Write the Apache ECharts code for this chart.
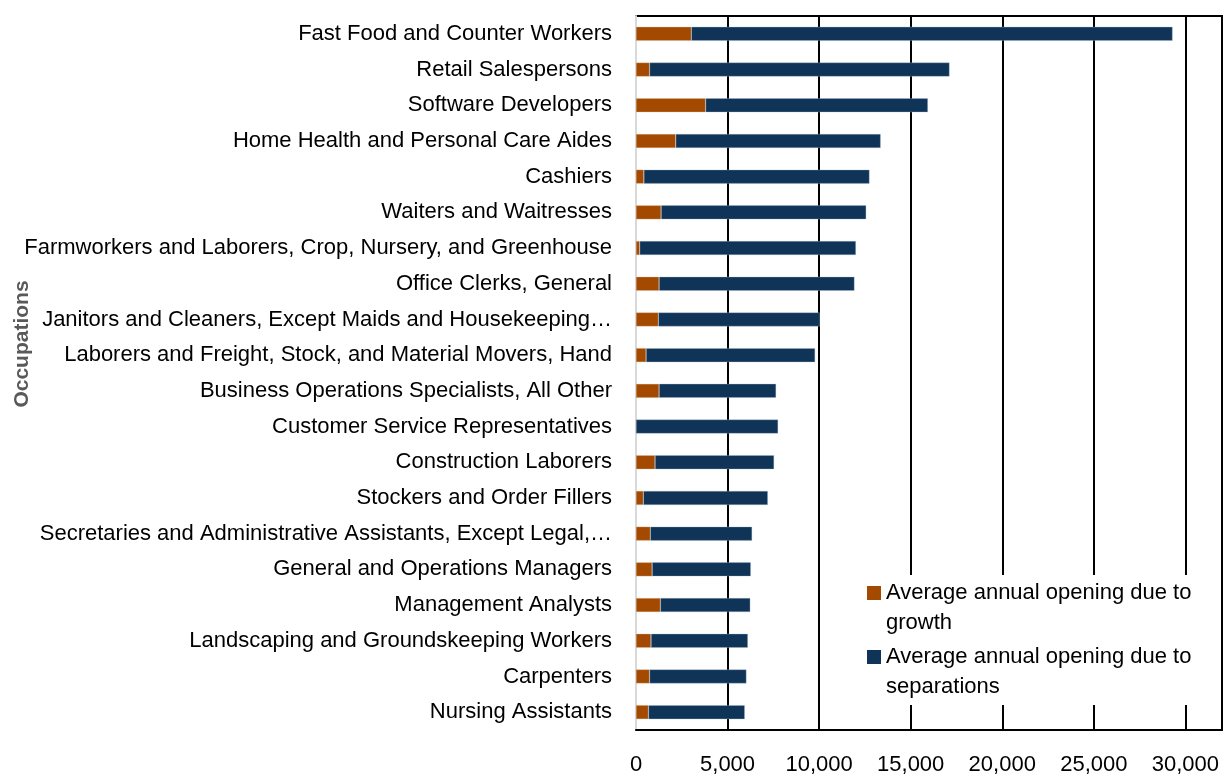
<!DOCTYPE html>
<html>
<head>
<meta charset="utf-8">
<script src="https://cdn.jsdelivr.net/npm/echarts@6/dist/echarts.min.js"></script>
<style>
  html, body { margin: 0; padding: 0; background: #fff; }
  #chart { width: 1225px; height: 776px; }
</style>
</head>
<body>
<div id="chart"></div>
<script>
// occupations, top to bottom as shown
const occupations = [
  'Fast Food and Counter Workers',
  'Retail Salespersons',
  'Software Developers',
  'Home Health and Personal Care Aides',
  'Cashiers',
  'Waiters and Waitresses',
  'Farmworkers and Laborers, Crop, Nursery, and Greenhouse',
  'Office Clerks, General',
  'Janitors and Cleaners, Except Maids and Housekeeping…',
  'Laborers and Freight, Stock, and Material Movers, Hand',
  'Business Operations Specialists, All Other',
  'Customer Service Representatives',
  'Construction Laborers',
  'Stockers and Order Fillers',
  'Secretaries and Administrative Assistants, Except Legal,…',
  'General and Operations Managers',
  'Management Analysts',
  'Landscaping and Groundskeeping Workers',
  'Carpenters',
  'Nursing Assistants'
]

const growthOpenings = [
  3020, 740, 3800, 2170, 430, 1370, 200, 1260, 1220, 550,
  1260, 0, 1040, 400, 780, 880, 1330, 820, 740, 680
]

const separationOpenings = [
  26280, 16380, 12140, 11190, 12320, 11200, 11810, 10670, 8810, 9230,
  6390, 7760, 6500, 6800, 5560, 5390, 4910, 5290, 5290, 5260
]

const seriesNames = [
  'Average annual opening due to growth',
  'Average annual opening due to separations'
]
const legendText = {
  'Average annual opening due to growth': 'Average annual opening due to\ngrowth',
  'Average annual opening due to separations': 'Average annual opening due to\nseparations'
}

const xMax = 32000
const xStep = 5000

const font = '"Liberation Sans", Arial, sans-serif'
// square sitting on the first text line of a two-line legend entry
const legendIcon = 'path://M0 0h0.02v0.02h-0.02z M0 8h14v14h-14z M13.98 59.98h0.02v0.02h-0.02z'

const chart = echarts.init(document.getElementById('chart'), null, { renderer: 'canvas' })

const option = {
  animation: false,
  textStyle: { fontFamily: font },
  grid: {
    left: 636,
    right: 3,
    top: 16,
    bottom: 45,
    show: true,
    borderColor: '#000',
    borderWidth: 2,
    backgroundColor: 'transparent'
  },
  legend: {
    data: seriesNames,
    orient: 'vertical',
    left: 858,
    top: 575,
    padding: [3, 10, 3, 9],
    itemGap: 4,
    itemWidth: 14,
    itemHeight: 60,
    icon: legendIcon,
    itemStyle: { borderWidth: 0 },
    backgroundColor: '#fff',
    formatter: name => legendText[name],
    textStyle: {
      fontFamily: font,
      fontSize: 22,
      lineHeight: 30,
      color: '#000'
    }
  },
  xAxis: {
    type: 'value',
    min: 0,
    max: xMax,
    interval: xStep,
    axisLine: { show: true, lineStyle: { color: '#000', width: 2 } },
    axisTick: { show: false },
    axisLabel: {
      showMaxLabel: false,
      margin: 24,
      fontFamily: font,
      fontSize: 22,
      color: '#000',
      formatter: v => v.toLocaleString('en-US')
    },
    splitLine: { show: true, lineStyle: { color: '#000', width: 2 } }
  },
  yAxis: {
    type: 'category',
    data: occupations,
    inverse: true,
    name: 'Occupations',
    nameLocation: 'middle',
    nameRotate: 90,
    nameGap: 603,
    nameMoveOverlap: false,
    nameTextStyle: {
      fontFamily: font,
      fontSize: 21,
      fontWeight: 'bold',
      color: '#595959',
      padding: [0, 0, 0, 58]
    },
    axisLine: { show: true, lineStyle: { color: '#d9d9d9', width: 2 } },
    axisTick: { show: false },
    axisLabel: {
      margin: 24,
      fontFamily: font,
      fontSize: 22,
      color: '#000'
    }
  },
  series: [
    {
      name: seriesNames[0],
      type: 'bar',
      stack: 'total',
      data: growthOpenings,
      barWidth: 14,
      itemStyle: { color: '#a44a00', borderColor: 'rgba(220,190,160,0.6)', borderWidth: 0.5 }
    },
    {
      name: seriesNames[1],
      type: 'bar',
      stack: 'total',
      data: separationOpenings,
      barWidth: 14,
      itemStyle: { color: '#0f3457', borderColor: 'rgba(170,190,210,0.7)', borderWidth: 0.5 }
    }
  ]
}

chart.setOption(option)
</script>
</body>
</html>
